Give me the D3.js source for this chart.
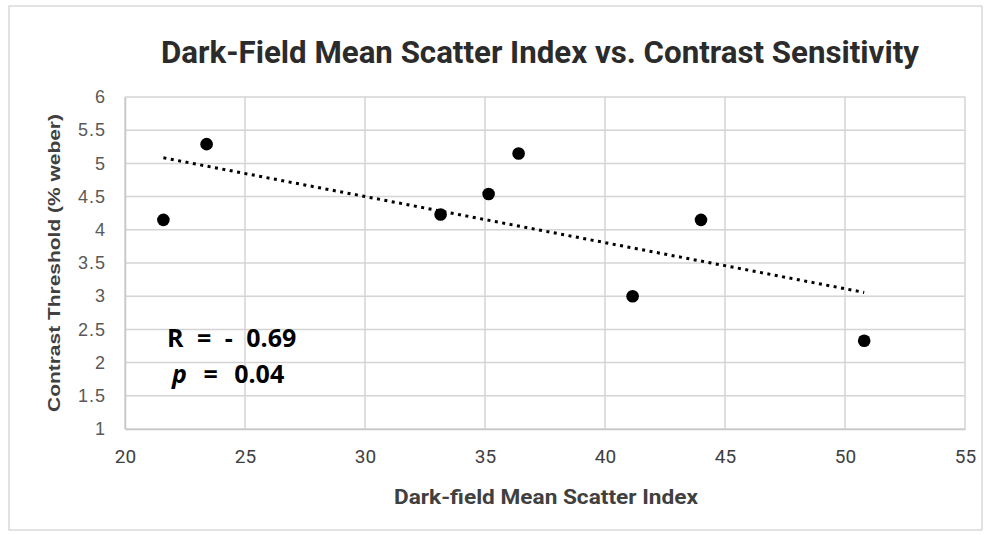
<!DOCTYPE html>
<html>
<head>
<meta charset="utf-8">
<script src="https://cdn.jsdelivr.net/npm/d3@7"></script>
<style>
  body { margin:0; background:#fff; }
  svg { display:block; }
</style>
</head>
<body>
<div class="plot"></div>
<script>
// values
var scatterIndex = [21.6, 23.4, 33.15, 35.15, 36.4, 41.15, 44.0, 50.8];
var contrastThreshold = [4.15, 5.29, 4.23, 4.54, 5.15, 3.0, 4.15, 2.33];
var xTicks = [20, 25, 30, 35, 40, 45, 50, 55];
var yTicks = [1, 1.5, 2, 2.5, 3, 3.5, 4, 4.5, 5, 5.5, 6];

var W = 987, H = 535;
var m = {t:97, r:22, b:106, l:125},
    w = W - m.l - m.r,
    h = H - m.t - m.b;

var narrow = "Roboto,'Liberation Sans',sans-serif";

var svg = d3.select('.plot')
    .append('svg')
    .attr('width', W)
    .attr('height', H);

// outer frame
svg.append('rect')
    .attr('x', 9).attr('y', 6)
    .attr('width', 973).attr('height', 524)
    .attr('fill', 'none')
    .attr('stroke', '#d0d0d0')
    .attr('stroke-width', 1.2);

var x = d3.scaleLinear().domain([20, 55]).range([0, w]);
var y = d3.scaleLinear().domain([1, 6]).range([h, 0]);

var g = svg.append('g')
    .attr('transform', 'translate(' + m.l + ',' + m.t + ')');

// grid
g.selectAll('.hgrid').data(yTicks).enter().append('line')
    .attr('x1', 0).attr('x2', w)
    .attr('y1', function(d){ return y(d); })
    .attr('y2', function(d){ return y(d); })
    .attr('stroke', '#d4d4d4').attr('stroke-width', 1.5);

g.selectAll('.vgrid').data(xTicks).enter().append('line')
    .attr('y1', 0).attr('y2', h)
    .attr('x1', function(d){ return x(d); })
    .attr('x2', function(d){ return x(d); })
    .attr('stroke', '#d4d4d4').attr('stroke-width', 1.5);

// axes (labels only)
var xAxis = g.append('g')
    .attr('transform', 'translate(0,' + h + ')')
    .call(d3.axisBottom(x).tickValues(xTicks).tickSize(0).tickPadding(21));
xAxis.select('.domain').attr('stroke', '#c8c8c8').attr('stroke-width', 1.5);
xAxis.selectAll('text')
    .attr('font-family', narrow)
    .attr('font-size', 19)
    .attr('fill', '#404040');

var yAxis = g.append('g')
    .call(d3.axisLeft(y).tickValues(yTicks).tickSize(0).tickPadding(19)
        .tickFormat(d3.format('')));
yAxis.select('.domain').attr('stroke', '#c8c8c8').attr('stroke-width', 1.5);
yAxis.selectAll('text')
    .attr('font-family', "'Liberation Sans',Arial,sans-serif")
    .attr('font-size', 18)
    .attr('letter-spacing', 1)
    .attr('fill', '#595959');

// trendline (least squares)
var mx = d3.mean(scatterIndex), my = d3.mean(contrastThreshold);
var sxy = d3.sum(scatterIndex, function(d,i){ return (d-mx)*(contrastThreshold[i]-my); });
var sxx = d3.sum(scatterIndex, function(d){ return (d-mx)*(d-mx); });
var slope = sxy / sxx, icpt = my - slope * mx;
var ext = d3.extent(scatterIndex);

g.append('line')
    .attr('x1', x(ext[0])).attr('y1', y(icpt + slope*ext[0]))
    .attr('x2', x(ext[1])).attr('y2', y(icpt + slope*ext[1]))
    .attr('stroke', '#000')
    .attr('stroke-width', 3)
    .attr('stroke-dasharray', '3,4.5');

// points
g.selectAll('circle')
    .data(scatterIndex)
    .enter()
    .append('circle')
    .attr('cx', function(d){ return x(d); })
    .attr('cy', function(d,i){ return y(contrastThreshold[i]); })
    .attr('r', 6.3)
    .attr('fill', '#000');

// title
svg.append('text')
    .attr('x', 540).attr('y', 63)
    .attr('text-anchor', 'middle')
    .attr('font-family', narrow)
    .attr('font-weight', 'bold')
    .attr('font-size', 32)
    .attr('fill', '#2b2b2b')
    .attr('textLength', 758)
    .attr('lengthAdjust', 'spacingAndGlyphs')
    .text('Dark-Field Mean Scatter Index vs. Contrast Sensitivity');

// x title
svg.append('text')
    .attr('x', 546).attr('y', 504)
    .attr('text-anchor', 'middle')
    .attr('font-family', narrow)
    .attr('font-weight', 'bold')
    .attr('font-size', 21)
    .attr('fill', '#404040')
    .attr('textLength', 304)
    .attr('lengthAdjust', 'spacingAndGlyphs')
    .text('Dark-field Mean Scatter Index');

// y title
svg.append('text')
    .attr('transform', 'translate(60,263) rotate(-90)')
    .attr('text-anchor', 'middle')
    .attr('font-family', "'Liberation Sans',Arial,sans-serif")
    .attr('font-weight', 'bold')
    .attr('font-size', 17)
    .attr('fill', '#404040')
    .attr('textLength', 298)
    .attr('lengthAdjust', 'spacingAndGlyphs')
    .text('Contrast Threshold (% weber)');

// stats annotation
svg.append('text')
    .attr('x', 167).attr('y', 347)
    .attr('font-family', "'Open Sans',sans-serif")
    .attr('font-weight', 'bold')
    .attr('font-size', 25)
    .attr('word-spacing', 7)
    .attr('fill', '#000')
    .text('R = - 0.69');

var pt = svg.append('text')
    .attr('x', 172).attr('y', 383)
    .attr('font-family', "'Open Sans',sans-serif")
    .attr('font-weight', 'bold')
    .attr('font-size', 25)
    .attr('word-spacing', 10)
    .attr('fill', '#000');
pt.append('tspan').attr('font-style', 'italic').text('p');
pt.append('tspan').text(' = 0.04');
</script>
</body>
</html>
